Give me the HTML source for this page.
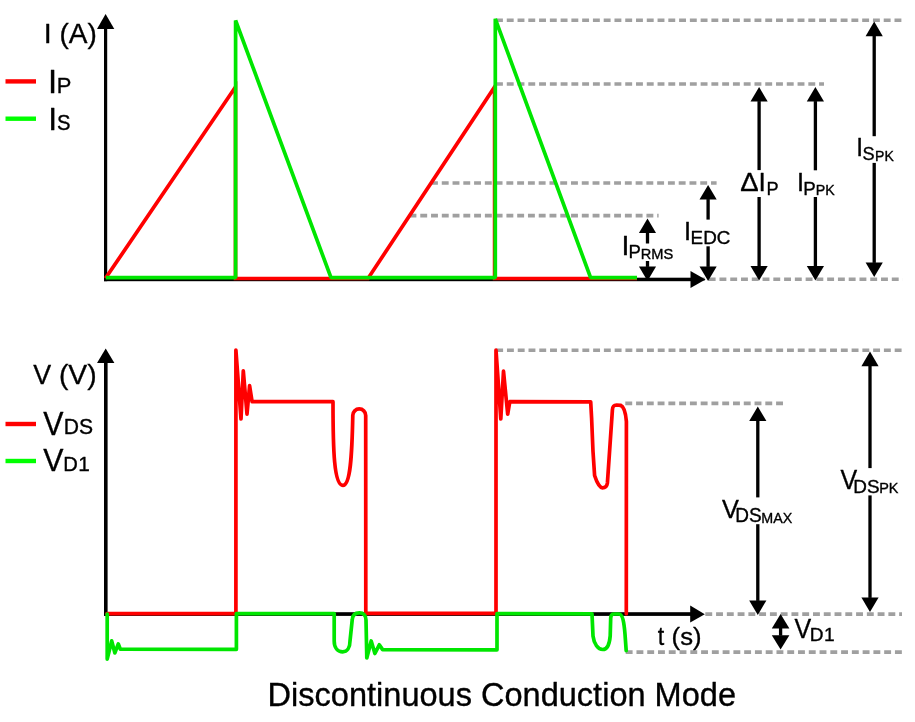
<!DOCTYPE html>
<html lang="en">
<head>
<meta charset="utf-8">
<title>Discontinuous Conduction Mode</title>
<style>
html,body{margin:0;padding:0;background:#fff;}
svg{display:block;}
</style>
</head>
<body>
<svg width="915" height="722" viewBox="0 0 915 722">
<rect width="915" height="722" fill="#fff"/>
<line x1="496" y1="20.2" x2="902.5" y2="20.2" stroke="#a0a0a0" stroke-width="3.6" stroke-dasharray="6.9 3.87"/>
<line x1="496" y1="84" x2="824" y2="84" stroke="#a0a0a0" stroke-width="3.6" stroke-dasharray="6.9 3.87"/>
<line x1="431" y1="183" x2="716.6" y2="183" stroke="#a0a0a0" stroke-width="3.6" stroke-dasharray="6.9 3.87"/>
<line x1="409.5" y1="215.6" x2="658.6" y2="215.6" stroke="#a0a0a0" stroke-width="3.6" stroke-dasharray="6.9 3.87"/>
<line x1="697.93" y1="279.3" x2="902.6" y2="279.3" stroke="#a0a0a0" stroke-width="3.6" stroke-dasharray="6.9 3.87"/>
<line x1="496.2" y1="350.3" x2="902" y2="350.3" stroke="#a0a0a0" stroke-width="3.6" stroke-dasharray="6.9 3.87"/>
<line x1="625.3" y1="403.4" x2="783.6" y2="403.4" stroke="#a0a0a0" stroke-width="3.6" stroke-dasharray="6.9 3.87"/>
<line x1="705.3" y1="614.1" x2="902" y2="614.1" stroke="#a0a0a0" stroke-width="3.6" stroke-dasharray="6.9 3.87"/>
<line x1="625.7" y1="652.1" x2="902" y2="652.1" stroke="#a0a0a0" stroke-width="3.6" stroke-dasharray="6.9 3.87"/>
<g fill="#000" stroke="none">
<rect x="104" y="28" width="3.2" height="253.2"/>
<polygon points="105.6,14 97,29 114.3,29"/>
<rect x="104" y="277.7" width="587" height="3.5"/>
<polygon points="705.5,279.5 690.5,271 690.5,288"/>
<rect x="104" y="362" width="3.6" height="253.9"/>
<polygon points="105.7,348.6 97,363 114.4,363"/>
<rect x="104" y="612.2" width="587" height="3.7"/>
<polygon points="704.8,614.2 690.2,605.6 690.2,622.6"/>
</g>
<g fill="none" stroke-width="3.7" stroke-linejoin="round" stroke-linecap="butt">
<polyline stroke="#ff0000" stroke-linejoin="miter" points="105.5,278.3 235.5,87 235.5,278.5 368,278.5 494.6,87 494.6,278.5 637,278.5"/>
<polyline stroke="#00e600" stroke-linejoin="bevel" points="105.8,277.7 235.6,277.7 235.6,20.5 331,277.7 495.3,277.7 495.3,18.8 590.6,277.7 637,277.7"/>
<path stroke="#ff0000" stroke-linecap="round" d="M107,613.7 L235.9,613.7 L235.9,350.1 L241,419 L243.3,370.9 L247,414.1 L249.6,385.7 L252.1,401.7 L333,401.7 C333,450 334,485.4 342.9,485.4 C350.5,485.4 352,455 352.8,415.4 A6.4,6.4 0 0 1 365.7,415.4 L365.8,613.4 L496,613.4 L496,350.1 L500.8,419 L503.5,371.2 L507.7,414.1 L509.8,401.7 L590.7,401.8 L591.6,418 L593,451.5 L594.6,475.5 C597,483 600,487.8 602.4,487.8 C605,487.8 607,486 607.4,483 L612.4,410 C612.6,406 614,405 616.5,405 L620.6,405.3 C623.5,406.5 625.7,413 626.4,421.5 L626.3,613.7"/>
<path stroke="#00e600" stroke-linecap="round" d="M107.2,614 L107.2,659.1 L111.7,640.9 L114.9,652.9 L118.3,643.9 L120.3,649.2 L236.4,649.3 L236.4,613.6 L334.2,613.6 L334.2,641 C334.2,648 338,651.8 342.7,651.8 C347,651.8 350,648 350,641 L352.2,620 C352.5,615 355,612.9 359.4,612.9 C363.5,612.9 366,615.5 366,620 L366.8,658 L371.2,641 L374.9,653.5 L379.3,644.8 L382.6,649.6 L497,649.8 L497,613.6 L592,613.8 L593,636 C594,644 598,649.5 602.8,649.5 C607,649.5 609.5,644 610.2,636 L610.7,618 C610.8,615 612,614 614,614 L619,614 C622.5,614 624,622 625,634.2 L626.2,650.6"/>
</g>
<g fill="none" stroke-width="4.4">
<line x1="5.5" y1="81.4" x2="36" y2="81.4" stroke="#ff0000"/>
<line x1="5.5" y1="118.7" x2="36" y2="118.7" stroke="#00ff00"/>
<line x1="5.5" y1="424" x2="36" y2="424" stroke="#ff0000"/>
<line x1="5.5" y1="461" x2="36" y2="461" stroke="#00ff00"/>
</g>
<g fill="#000" stroke="none">
<polygon points="647.5,218.4 638.95,233 656.05,233"/>
<polygon points="647.5,281 638.95,266.4 656.05,266.4"/>
<rect x="645.85" y="232.5" width="3.3" height="11"/>
<rect x="645.85" y="261" width="3.3" height="5.9"/>
<polygon points="708.1,185 699.5,199.6 716.7,199.6"/>
<polygon points="708.1,281 699.5,266.4 716.7,266.4"/>
<rect x="706.45" y="199.1" width="3.3" height="20.5"/>
<rect x="706.45" y="246.3" width="3.3" height="20.6"/>
<polygon points="759.1,87 750.5,101.6 767.7,101.6"/>
<polygon points="759.1,280.6 750.5,266 767.7,266"/>
<rect x="757.45" y="101.1" width="3.3" height="69"/>
<rect x="757.45" y="197" width="3.3" height="69.5"/>
<polygon points="815.4,87 806.8,101.6 824,101.6"/>
<polygon points="815.4,280.6 806.8,266 824,266"/>
<rect x="813.75" y="101.1" width="3.3" height="69.2"/>
<rect x="813.75" y="197" width="3.3" height="69.5"/>
<polygon points="874.2,21.6 865.6,36.2 882.8,36.2"/>
<polygon points="874.2,277 865.6,262.4 882.8,262.4"/>
<rect x="872.55" y="35.7" width="3.3" height="100.5"/>
<rect x="872.55" y="162.9" width="3.3" height="100"/>
<polygon points="757.8,406.4 749.2,421 766.4,421"/>
<polygon points="757.8,615 749.2,600.4 766.4,600.4"/>
<rect x="756.15" y="420.5" width="3.3" height="76.9"/>
<rect x="756.15" y="524.2" width="3.3" height="76.7"/>
<polygon points="870,351.6 861.4,366.2 878.6,366.2"/>
<polygon points="870,612 861.4,597.4 878.6,597.4"/>
<rect x="868.35" y="365.7" width="3.3" height="102.4"/>
<rect x="868.35" y="495.4" width="3.3" height="102.5"/>
<polygon points="780.6,614 771.8,628.4 789.4,628.4"/>
<polygon points="780.6,649.6 771.8,635.2 789.4,635.2"/>
<rect x="778.95" y="627.9" width="3.3" height="7.8"/>
</g>
<g fill="#000" stroke="#000" stroke-width="0.35" stroke-linejoin="round" font-family="'Liberation Sans', Arial, Helvetica, sans-serif">
<text transform="translate(43.84,42.90) scale(1.0194,1)" font-size="27.98">I</text>
<text transform="translate(59.43,42.90) scale(1.0010,1)" font-size="27.98">(A)</text>
<text transform="translate(48.04,92.90) scale(1.0100,1)" font-size="32.49">I</text>
<text transform="translate(56.67,92.90) scale(1.0015,1)" font-size="21.88">P</text>
<text transform="translate(48.14,129.70) scale(0.9994,1)" font-size="31.76">I</text>
<text transform="translate(56.95,129.70) scale(0.9259,1)" font-size="21.88">S</text>
<text transform="translate(33.15,384.10) scale(0.9442,1)" font-size="28.42">V</text>
<text transform="translate(58.92,384.10) scale(0.9943,1)" font-size="28.42">(V)</text>
<text transform="translate(43.14,434.60) scale(0.9377,1)" font-size="32.34">V</text>
<text transform="translate(63.64,434.40) scale(0.9793,1)" font-size="21.58">DS</text>
<text transform="translate(43.14,471.40) scale(0.9549,1)" font-size="31.76">V</text>
<text transform="translate(63.21,471.30) scale(1.0031,1)" font-size="20.13">D</text>
<text transform="translate(78.25,471.40) scale(1.0000,1)" font-size="20.80">1</text>
<text transform="translate(657.82,644.80) scale(0.8908,1)" font-size="26.20">t</text>
<text transform="translate(671.58,644.70) scale(1.0397,1)" font-size="24.70">(s)</text>
<text transform="translate(621.54,254.80) scale(1.0247,1)" font-size="27.83">I</text>
<text transform="translate(628.45,258.20) scale(0.9693,1)" font-size="19.11">P</text>
<text transform="translate(640.67,258.60) scale(1.0547,1)" font-size="13.88">RMS</text>
<text transform="translate(684.03,240.10) scale(0.9699,1)" font-size="26.09">I</text>
<text transform="translate(690.62,243.70) scale(1.0341,1)" font-size="18.24">EDC</text>
<text transform="translate(740.35,190.90) scale(1.0567,1)" font-size="26.09">Δ</text>
<text transform="translate(758.54,190.90) scale(1.0110,1)" font-size="26.09">I</text>
<text transform="translate(766.38,194.80) scale(0.9569,1)" font-size="18.97">P</text>
<text transform="translate(796.93,190.70) scale(0.9808,1)" font-size="25.80">I</text>
<text transform="translate(803.33,194.80) scale(0.9866,1)" font-size="18.97">P</text>
<text transform="translate(815.80,195.00) scale(1.0363,1)" font-size="13.74">PK</text>
<text transform="translate(856.13,156.30) scale(0.9340,1)" font-size="25.94">I</text>
<text transform="translate(862.54,160.40) scale(0.9579,1)" font-size="18.97">S</text>
<text transform="translate(875.12,160.60) scale(1.0245,1)" font-size="13.74">PK</text>
<text transform="translate(722.06,518.20) scale(0.9595,1)" font-size="26.38">V</text>
<text transform="translate(735.31,521.70) scale(0.9506,1)" font-size="19.99">DS</text>
<text transform="translate(761.30,522.50) scale(0.9804,1)" font-size="14.61">MAX</text>
<text transform="translate(840.56,489.10) scale(0.9225,1)" font-size="27.11">V</text>
<text transform="translate(853.22,492.70) scale(1.0129,1)" font-size="18.68">DS</text>
<text transform="translate(879.18,492.90) scale(1.0214,1)" font-size="14.17">PK</text>
<text transform="translate(794.46,637.90) scale(0.9275,1)" font-size="26.96">V</text>
<text transform="translate(809.71,641.20) scale(1.0259,1)" font-size="18.53">D</text>
<text transform="translate(823.92,641.30) scale(1.0000,1)" font-size="19.20">1</text>
<text transform="translate(267.60,705.70) scale(0.9925,1)" font-size="32.80">Discontinuous Conduction Mode</text>
</g>
</svg>
</body>
</html>
